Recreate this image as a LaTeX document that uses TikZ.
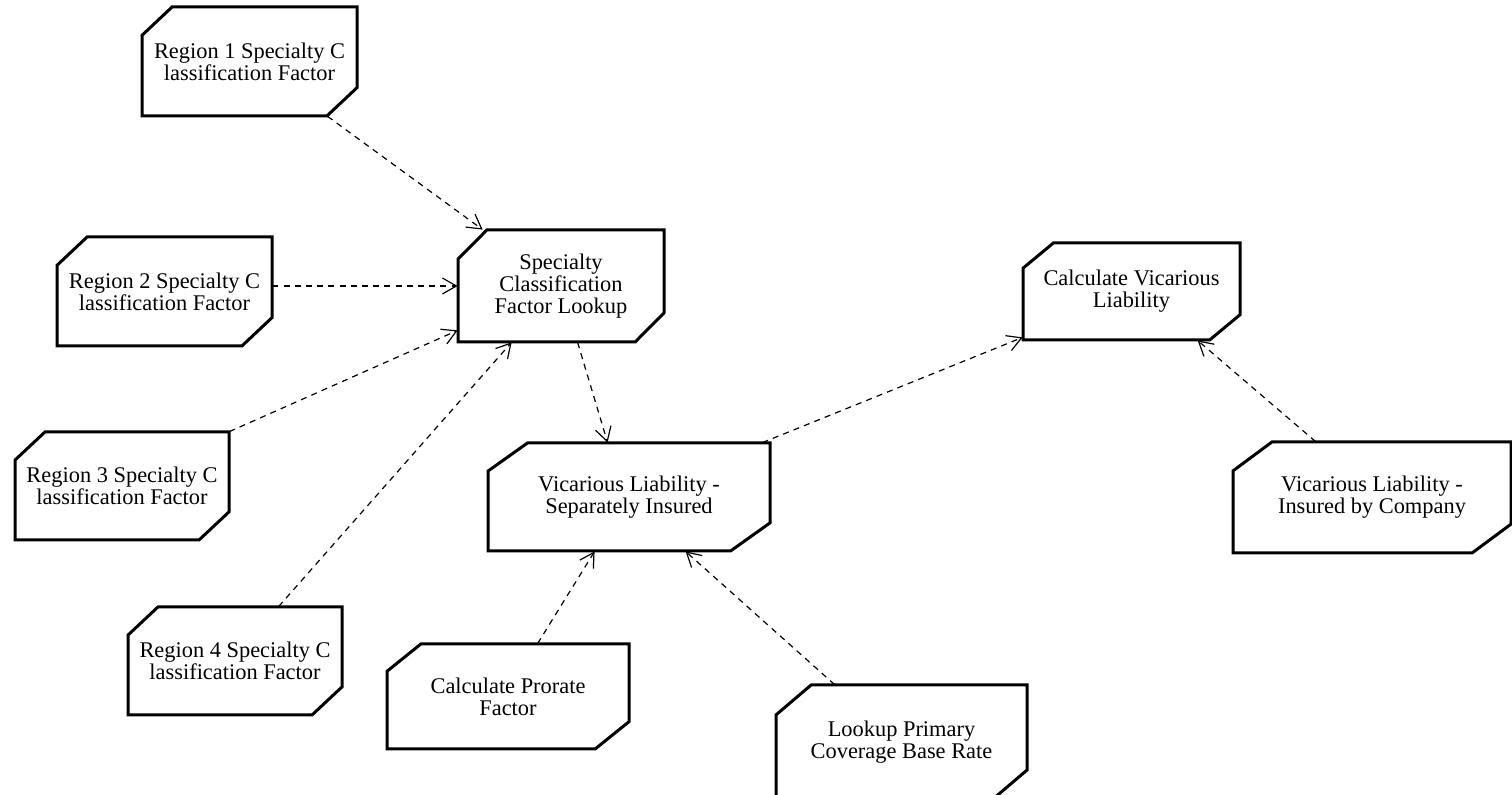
\documentclass[tikz,border=0pt]{standalone}
\usepackage{fontspec}
\setmainfont{Liberation Serif}
\usetikzlibrary{arrows.meta,calc}

\tikzset{
  boxline/.style={line width=1.5pt, line join=miter, fill=white},
  boxlabel/.style={align=center, font=\fontsize{11.2}{10.9}\selectfont, inner sep=0pt},
  flow/.style={line width=0.6pt, dash pattern=on 3pt off 2.6pt,
    -{Straight Barb[length=7pt,width=8pt,line width=0.6pt]}},
}

% chamfered box: name, x1, y1, x2, y2, label
\newcommand\chamferbox[6]{%
  \draw[boxline] ({#2},{#3+0.26*(#5-#3)}) -- ({#2+0.14*(#4-#2)},{#3})
    -- ({#4},{#3}) -- ({#4},{#5-0.26*(#5-#3)}) -- ({#4-0.14*(#4-#2)},{#5})
    -- ({#2},{#5}) -- cycle;
  \node[boxlabel, minimum width={(#4-#2)*0.5pt}, minimum height={(#5-#3)*0.5pt}]
    (#1) at ({(#2+#4)/2},{(#3+#5)/2}) {#6};
}

\begin{document}
\begin{tikzpicture}[x=0.5pt, y=-0.5pt]
  \useasboundingbox (0,0) rectangle (1512,795);

  \chamferbox{r1}{142}{7}{357}{116}{Region 1 Specialty C\\lassification Factor}
  \chamferbox{r2}{57}{237}{272}{346}{Region 2 Specialty C\\lassification Factor}
  \chamferbox{spec}{458}{230}{664}{342}{Specialty\\Classification\\Factor Lookup}
  \chamferbox{calc}{1023}{243}{1240}{340}{Calculate Vicarious\\Liability}
  \chamferbox{r3}{15}{432}{229}{540}{Region 3 Specialty C\\lassification Factor}
  \chamferbox{vlsep}{488}{443}{770}{551}{Vicarious Liability -\\Separately Insured}
  \chamferbox{vlco}{1233}{442}{1511}{553}{Vicarious Liability -\\Insured by Company}
  \chamferbox{r4}{128}{607}{342}{715}{Region 4 Specialty C\\lassification Factor}
  \chamferbox{prorate}{387}{644}{629}{749}{Calculate Prorate\\Factor}
  \chamferbox{lookup}{776}{685}{1027}{800}{Lookup Primary\\Coverage Base Rate}

  \draw[flow] ($(r1.south west)+(186,0)$) -- ($(spec.north west)+(25,0)$);
  \draw[flow] (spec.west -| r2.east) -- (spec.west);
  \draw[flow] (r3.north east) -- ($(spec.south west)+(0,-12)$);
  \draw[flow] ($(r4.north west)+(151,0)$) -- ($(spec.south west)+(54,0)$);
  \draw[flow] ($(spec.south west)+(120,0)$) -- ($(vlsep.north west)+(120,0)$);
  \draw[flow] ($(vlsep.north east)+(-8,0)$) -- ($(calc.south west)+(0,-3)$);
  \draw[flow] ($(vlco.north west)+(83,0)$) -- ($(calc.south west)+(175,0)$);
  \draw[flow] ($(prorate.north west)+(151,0)$) -- ($(vlsep.south west)+(107,0)$);
  \draw[flow] ($(lookup.north west)+(59,0)$) -- ($(vlsep.south west)+(198,0)$);
\end{tikzpicture}
\end{document}
